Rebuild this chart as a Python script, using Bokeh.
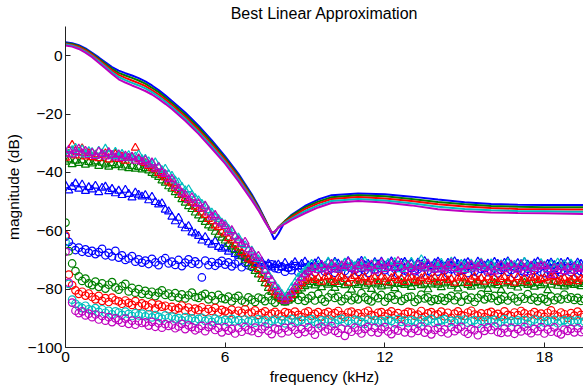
from bokeh.plotting import figure
from bokeh.models import Range1d, FixedTicker
from bokeh.embed import file_html
from bokeh.resources import INLINE

# ---------------- data ----------------
# BLA magnitude lines (dB) on a frequency grid (kHz)
line_f = [0, 0.25, 0.5, 0.75, 1, 1.25, 1.5, 1.75, 2, 2.25, 2.5, 2.75, 3, 3.25, 3.5, 3.75, 4,
          4.5, 5, 5.5, 6, 6.5, 7, 7.25, 7.5, 7.75, 7.85, 8.0, 8.25, 8.5, 9, 9.5, 10,
          11, 12, 13, 14, 15, 16, 17, 18, 19, 19.5]
bla_b = [4.6, 4.3, 3.6, 2.5, 1.0, -0.6, -2.3, -3.9, -5.1, -6.0, -6.8, -7.7, -8.8, -10.2, -11.8, -13.6, -15.5,
         -19.5, -24.0, -29.0, -34.5, -40.5, -47.5, -51.5, -56.0, -61.0, -63.0, -61.0, -56.8, -54.5, -51.5, -49.3, -47.8,
         -47.2, -47.5, -48.3, -49.3, -50.2, -50.8, -51.1, -51.2, -51.2, -51.2]
bla_g = [4.3, 4.0, 3.3, 2.15, 0.6, -1.05, -2.8, -4.5, -5.9, -6.8, -7.6, -8.5, -9.6, -11.0, -12.5, -14.3, -16.2,
         -20.2, -24.7, -29.7, -35.1, -41.1, -48.0, -51.9, -56.2, -60.6, -60.8, -58.8, -56.6, -54.8, -52.0, -50.0, -48.5,
         -47.8, -48.2, -49.1, -50.1, -50.9, -51.5, -51.8, -51.9, -51.9, -51.9]
bla_r = [4.0, 3.7, 3.0, 1.8, 0.3, -1.5, -3.3, -5.1, -6.6, -7.6, -8.5, -9.4, -10.4, -11.8, -13.3, -15.0, -16.9,
         -20.9, -25.4, -30.4, -35.7, -41.7, -48.5, -52.3, -56.5, -60.6, -60.7, -58.8, -56.9, -55.3, -52.6, -50.6, -49.1,
         -48.4, -48.9, -49.8, -50.9, -51.7, -52.2, -52.5, -52.6, -52.7, -52.7]
bla_c = [3.8, 3.4, 2.6, 1.4, -0.1, -1.9, -3.8, -5.7, -7.3, -8.4, -9.3, -10.2, -11.2, -12.5, -14.0, -15.7, -17.6,
         -21.6, -26.1, -31.1, -36.4, -42.4, -49.0, -52.6, -56.8, -60.7, -60.5, -58.9, -57.2, -55.8, -53.3, -51.3, -49.8,
         -49.1, -49.6, -50.6, -51.8, -52.5, -53.0, -53.2, -53.3, -53.5, -53.5]
bla_m = [3.5, 3.1, 2.3, 1.05, -0.5, -2.4, -4.3, -6.3, -8.1, -9.2, -10.2, -11.1, -12.1, -13.3, -14.8, -16.5, -18.3,
         -22.3, -26.8, -31.8, -37.0, -43.0, -49.5, -53.0, -57.0, -60.7, -60.3, -59.0, -57.6, -56.3, -54.0, -52.0, -50.5,
         -49.8, -50.3, -51.3, -52.6, -53.3, -53.7, -53.9, -54.0, -54.2, -54.3]

# noise spectra on 0.125 kHz bins (one row of 8 bins per kHz)
noise_f = [i * 0.125 for i in range(157)]

tri_b = [
    -44.5, -46.2, -45.0, -43.8, -45.6, -44.2, -46.4, -45.1,
    -45.9, -44.6, -46.8, -45.3, -44.9, -46.5, -45.7, -47.2,
    -46.3, -47.8, -46.0, -47.4, -48.6, -46.9, -47.7, -48.3,
    -47.8, -49.6, -48.4, -50.2, -51.0, -50.6, -52.8, -53.4,
    -55.2, -56.8, -55.6, -58.0, -59.2, -58.4, -60.6, -61.0,
    -61.8, -63.4, -62.2, -64.0, -64.8, -63.6, -65.6, -66.2,
    -65.8, -67.2, -66.4, -68.0, -68.6, -67.8, -69.4, -70.0,
    -69.6, -70.8, -71.4, -70.5, -72.0, -71.3, -72.6, -71.8,
    -71.6, -72.5, -71.0, -72.9, -71.8, -70.8, -72.3, -71.4,
    -70.6, -71.9, -72.4, -71.2, -70.5, -71.7, -72.1, -70.9,
    -71.8, -70.7, -71.3, -72.6, -71.0, -70.4, -71.6, -72.2,
    -71.1, -70.3, -71.9, -71.4, -72.3, -70.8, -71.5, -70.6,
    -72.0, -71.2, -70.5, -71.8, -72.4, -71.0, -70.7, -71.9,
    -71.3, -72.5, -70.9, -71.6, -70.4, -71.8, -72.2, -71.1,
    -70.6, -71.7, -72.3, -71.0, -71.9, -70.5, -71.4, -72.6,
    -71.2, -70.8, -71.9, -72.4, -70.6, -71.5, -72.0, -71.3,
    -71.8, -70.7, -71.4, -72.2, -71.0, -70.5, -71.7, -72.5,
    -71.1, -72.0, -70.8, -71.6, -72.3, -71.2, -70.6, -71.9,
    -72.1, -71.4, -70.9, -71.8, -72.4, -71.0, -71.5, -70.7,
    -71.6, -72.2, -70.9, -71.4, -72.0]
tri_g = [
    -36.4, -35.6, -37.2, -36.0, -36.8, -35.9, -37.4, -36.5,
    -37.0, -36.3, -37.8, -36.7, -37.3, -38.1, -36.9, -37.6,
    -37.4, -38.3, -37.7, -38.6, -37.9, -38.8, -38.2, -39.0,
    -38.6, -39.4, -40.2, -40.8, -41.6, -42.8, -43.6, -44.8,
    -45.6, -46.8, -47.8, -49.2, -50.4, -51.6, -52.6, -53.8,
    -54.8, -56.0, -57.0, -58.2, -59.0, -60.4, -61.4, -62.4,
    -63.4, -64.6, -65.4, -66.6, -67.6, -68.8, -70.0, -71.2,
    -72.4, -73.8, -75.0, -76.6, -78.0, -79.6, -81.0, -82.2,
    -83.0, -84.0, -84.6, -84.0, -83.2, -82.0, -80.6, -79.8,
    -79.0, -78.4, -77.6, -78.8, -78.0, -79.4, -77.8, -78.5,
    -77.9, -79.6, -78.3, -77.5, -78.7, -78.1, -80.2, -78.0,
    -78.6, -77.7, -78.9, -78.2, -80.0, -77.8, -78.4, -79.1,
    -77.6, -78.8, -78.0, -79.7, -78.3, -77.9, -78.6, -78.1,
    -79.3, -78.0, -77.5, -78.7, -78.2, -80.1, -78.4, -77.8,
    -78.5, -79.4, -78.1, -77.7, -78.9, -78.3, -79.8, -78.0,
    -77.8, -78.6, -79.2, -78.0, -77.6, -78.8, -78.2, -80.0,
    -78.4, -77.9, -78.7, -80.3, -78.1, -77.7, -78.9, -78.3,
    -79.5, -78.0, -77.8, -78.6, -78.2, -79.2, -77.9, -78.7,
    -78.1, -80.4, -78.5, -77.6, -78.9, -78.0, -79.1, -78.4,
    -77.9, -78.6, -78.2, -79.0, -78.3]
tri_r = [
    -35.0, -33.6, -30.6, -34.2, -33.0, -31.8, -34.6, -33.4,
    -34.8, -33.9, -35.2, -34.0, -33.5, -35.6, -34.3, -33.7,
    -35.4, -34.6, -36.0, -35.1, -34.8, -31.6, -35.5, -36.2,
    -36.8, -37.8, -38.6, -39.0, -40.2, -41.0, -41.8, -43.2,
    -43.8, -45.4, -46.2, -47.6, -48.8, -49.6, -50.4, -51.8,
    -52.6, -53.8, -54.6, -56.0, -56.8, -58.2, -58.8, -60.4,
    -61.0, -62.6, -63.4, -64.8, -65.8, -67.4, -68.2, -69.6,
    -70.2, -71.8, -73.2, -75.0, -76.4, -78.2, -79.8, -81.2,
    -82.2, -83.4, -84.0, -83.2, -82.0, -80.4, -79.0, -78.0,
    -77.2, -76.4, -75.8, -76.9, -76.2, -77.5, -76.0, -75.6,
    -76.8, -77.6, -76.1, -75.7, -76.6, -77.8, -76.3, -75.5,
    -77.1, -76.4, -75.9, -77.5, -76.7, -76.0, -77.3, -75.8,
    -76.5, -77.7, -76.2, -75.6, -77.0, -76.4, -77.6, -76.1,
    -75.8, -76.9, -77.4, -76.3, -75.7, -77.2, -76.6, -76.0,
    -77.5, -76.2, -75.9, -77.0, -76.5, -77.8, -76.1, -75.7,
    -76.4, -77.9, -76.7, -75.8, -77.1, -76.3, -77.5, -76.0,
    -77.0, -76.1, -77.6, -76.6, -75.9, -77.3, -76.4, -77.8,
    -75.9, -77.2, -76.5, -77.7, -76.2, -75.8, -77.0, -76.6,
    -76.3, -77.1, -76.0, -75.6, -77.4, -76.8, -76.2, -77.5,
    -76.9, -76.0, -77.3, -76.5, -76.1]
tri_c = [
    -32.8, -33.8, -32.4, -31.6, -33.4, -32.1, -33.9, -32.7,
    -33.1, -34.2, -32.6, -33.5, -31.9, -33.8, -34.4, -33.0,
    -34.4, -33.7, -35.0, -34.1, -35.3, -34.6, -33.9, -35.5,
    -35.4, -36.2, -37.0, -36.6, -38.0, -39.2, -38.8, -40.6,
    -41.2, -42.8, -43.4, -45.0, -46.2, -45.8, -47.6, -48.8,
    -49.6, -50.8, -51.6, -53.0, -53.8, -55.4, -56.0, -57.2,
    -57.8, -59.4, -60.2, -61.8, -62.4, -64.2, -65.0, -66.4,
    -66.8, -68.6, -69.8, -71.6, -73.4, -75.0, -76.8, -78.6,
    -80.0, -81.6, -82.8, -81.4, -79.4, -77.8, -76.0, -74.9,
    -73.8, -72.6, -71.4, -72.9, -71.8, -73.0, -72.2, -70.6,
    -72.0, -71.2, -73.1, -72.4, -70.9, -72.8, -71.6, -72.3,
    -71.5, -72.7, -70.4, -72.1, -73.0, -71.3, -72.5, -71.8,
    -72.9, -71.1, -72.4, -70.8, -71.9, -73.2, -71.5, -72.2,
    -70.7, -72.3, -71.6, -69.8, -72.6, -71.2, -73.0, -71.8,
    -72.4, -71.0, -72.8, -71.7, -70.6, -72.1, -73.1, -71.4,
    -71.9, -73.2, -71.3, -72.5, -71.8, -70.9, -72.7, -72.0,
    -71.2, -72.6, -73.0, -71.5, -72.2, -71.0, -72.9, -71.7,
    -72.8, -71.4, -70.7, -72.3, -73.1, -71.9, -72.4, -71.1,
    -72.0, -73.3, -71.6, -72.5, -70.9, -72.2, -71.5, -72.8,
    -71.3, -72.6, -71.9, -73.0, -72.1]
tri_m = [
    -33.6, -32.2, -33.9, -32.8, -31.9, -33.5, -32.6, -34.1,
    -33.3, -34.4, -32.9, -33.7, -34.6, -33.1, -34.0, -34.9,
    -33.8, -35.2, -34.3, -35.0, -34.6, -36.0, -35.2, -36.4,
    -35.8, -37.4, -36.6, -38.8, -38.2, -40.0, -40.6, -42.4,
    -42.2, -44.6, -45.4, -47.0, -47.6, -49.4, -48.6, -50.8,
    -50.6, -52.4, -51.4, -53.8, -55.2, -54.6, -56.8, -57.6,
    -58.4, -60.6, -59.8, -62.0, -63.2, -64.6, -63.8, -66.4,
    -67.2, -69.4, -68.6, -71.4, -73.8, -75.6, -77.0, -79.4,
    -80.8, -82.6, -84.0, -82.6, -81.0, -79.2, -77.6, -76.2,
    -75.0, -74.0, -73.2, -72.4, -73.5, -71.8, -72.9, -73.6,
    -71.4, -72.6, -73.4, -71.9, -72.2, -70.8, -72.9, -73.3,
    -72.1, -71.2, -73.0, -72.5, -71.6, -73.7, -72.0, -70.9,
    -73.2, -72.4, -71.1, -72.8, -70.4, -72.3, -73.5, -71.8,
    -72.7, -73.9, -71.6, -72.2, -73.0, -71.4, -72.6, -73.4,
    -71.5, -72.9, -73.3, -72.0, -71.1, -72.7, -73.6, -72.2,
    -73.5, -72.1, -71.7, -73.0, -72.4, -71.3, -72.8, -73.7,
    -72.3, -74.0, -72.6, -71.8, -73.2, -72.5, -71.6, -72.9,
    -73.4, -71.5, -72.7, -74.2, -72.0, -73.1, -72.4, -71.9,
    -72.1, -73.2, -75.2, -72.7, -73.5, -72.3, -73.9, -72.6,
    -73.7, -72.4, -73.1, -72.8, -73.3]

circ_b = [
    -62.0, -63.8, -65.4, -66.6, -65.8, -67.2, -66.4, -67.5,
    -66.9, -68.0, -67.3, -66.2, -68.4, -67.6, -68.8, -66.9,
    -69.2, -68.4, -70.0, -69.5, -68.7, -70.6, -69.8, -70.9,
    -70.2, -71.4, -69.6, -70.8, -71.8, -70.1, -69.4, -71.2,
    -70.6, -71.7, -70.0, -72.1, -70.9, -69.8, -71.3, -70.5,
    -71.4, -76.0, -70.2, -71.8, -70.7, -72.0, -71.1, -70.3,
    -71.6, -70.8, -72.2, -71.3, -70.6, -72.5, -71.0, -71.9,
    -72.4, -71.2, -72.9, -71.8, -73.3, -72.0, -71.5, -72.8,
    -73.1, -72.3, -74.0, -72.7, -73.5, -72.1, -74.2, -73.0,
    -72.6, -73.9, -72.4, -74.3, -73.2, -72.8, -74.0, -73.5,
    -72.9, -74.4, -73.1, -72.5, -73.8, -74.6, -72.7, -73.4,
    -74.1, -72.8, -73.6, -74.5, -72.6, -73.3, -74.0, -72.9,
    -73.5, -72.4, -74.3, -73.0, -74.8, -72.7, -73.6, -74.2,
    -72.8, -73.9, -73.2, -74.6, -72.5, -73.7, -74.3, -73.0,
    -74.0, -72.9, -73.5, -74.7, -73.2, -72.6, -74.1, -73.6,
    -73.3, -74.5, -72.8, -73.9, -74.4, -73.1, -72.7, -74.2,
    -73.8, -72.9, -74.6, -73.4, -72.6, -74.0, -73.5, -74.8,
    -72.8, -73.7, -74.3, -73.0, -74.9, -73.6, -72.9, -74.1,
    -74.5, -73.2, -74.0, -75.0, -73.4, -74.3, -73.8, -72.9,
    -74.2, -73.5, -74.7, -73.9, -74.4]
circ_g = [
    -57.2, -67.0, -71.2, -73.8, -75.6, -77.2, -76.4, -78.0,
    -78.6, -77.4, -79.2, -78.0, -79.8, -78.5, -77.6, -79.4,
    -80.2, -79.0, -78.2, -80.8, -79.6, -81.2, -80.0, -81.6,
    -80.6, -81.9, -80.9, -82.4, -81.2, -80.4, -82.0, -81.5,
    -82.6, -81.4, -82.9, -81.8, -83.2, -82.1, -81.2, -82.7,
    -83.0, -82.2, -81.6, -83.5, -82.4, -83.8, -82.0, -83.1,
    -83.4, -82.6, -84.2, -83.0, -82.3, -83.9, -84.5, -82.8,
    -83.6, -84.4, -82.9, -83.3, -84.1, -82.5, -83.8, -84.6,
    -82.9, -83.6, -84.2, -82.4, -83.1, -81.8, -83.7, -82.6,
    -84.0, -83.2, -82.3, -83.9, -81.6, -83.4, -84.3, -82.8,
    -81.5, -83.0, -82.6, -84.1, -83.3, -82.2, -83.8, -82.9,
    -83.5, -81.4, -82.8, -83.7, -84.2, -82.5, -83.1, -82.0,
    -84.3, -83.0, -82.4, -83.6, -82.1, -84.0, -83.3, -82.7,
    -82.6, -84.4, -83.5, -81.9, -83.2, -82.8, -84.1, -83.4,
    -83.7, -82.9, -84.0, -83.1, -82.3, -83.8, -82.6, -84.3,
    -82.2, -83.6, -82.9, -84.4, -83.0, -81.8, -83.5, -82.7,
    -83.1, -82.3, -84.0, -83.5, -82.6, -83.9, -82.4, -83.2,
    -84.2, -82.7, -83.3, -81.7, -83.6, -82.9, -84.1, -83.0,
    -83.4, -84.3, -82.5, -83.8, -82.9, -83.5, -81.9, -83.3,
    -82.8, -83.7, -83.0, -84.0, -83.4]
circ_r = [
    -61.6, -75.0, -78.6, -80.4, -81.6, -80.9, -82.2, -81.5,
    -82.7, -83.5, -82.3, -84.0, -83.1, -84.4, -82.9, -83.8,
    -84.2, -85.0, -83.9, -84.7, -85.4, -84.1, -85.8, -84.9,
    -85.5, -86.2, -84.9, -86.6, -85.3, -86.0, -85.7, -86.9,
    -86.1, -87.0, -86.5, -85.6, -87.3, -86.3, -87.6, -86.7,
    -87.2, -86.2, -87.8, -86.8, -87.5, -86.4, -88.0, -87.1,
    -87.6, -88.3, -87.0, -88.6, -87.4, -88.1, -86.9, -88.4,
    -88.0, -87.3, -88.8, -88.2, -87.6, -89.1, -88.4, -87.8,
    -88.6, -89.3, -87.9, -88.2, -89.0, -87.7, -88.8, -89.5,
    -88.1, -87.6, -89.2, -88.5, -87.9, -89.4, -88.3, -87.8,
    -89.0, -88.2, -87.5, -88.9, -89.6, -88.0, -87.7, -88.7,
    -88.3, -89.5, -88.0, -87.4, -88.8, -89.2, -88.1, -87.9,
    -89.3, -88.4, -87.6, -89.0, -88.2, -89.7, -88.5, -87.8,
    -88.0, -89.1, -88.7, -87.5, -89.4, -88.3, -87.9, -89.0,
    -88.6, -87.7, -89.3, -88.1, -89.8, -88.4, -87.6, -88.9,
    -89.2, -88.0, -87.4, -88.7, -89.1, -88.3, -89.6, -88.2,
    -87.8, -89.0, -88.5, -89.4, -87.6, -88.8, -89.2, -88.0,
    -88.9, -87.5, -88.3, -89.7, -88.6, -87.9, -89.0, -88.4,
    -89.5, -88.1, -87.3, -88.7, -89.3, -88.0, -88.6, -89.9,
    -88.2, -89.1, -87.7, -88.8, -89.4]
circ_c = [
    -63.8, -78.2, -83.6, -85.0, -85.9, -86.5, -85.7, -86.9,
    -87.2, -86.5, -87.8, -86.9, -88.1, -87.4, -88.6, -87.6,
    -88.0, -88.8, -87.7, -88.5, -89.2, -88.2, -89.0, -88.4,
    -89.3, -88.6, -89.7, -88.9, -89.5, -90.1, -89.0, -89.8,
    -89.4, -90.3, -89.9, -90.7, -89.6, -90.4, -90.0, -90.9,
    -90.2, -89.8, -90.9, -90.4, -91.2, -90.1, -90.7, -91.0,
    -90.5, -91.3, -90.2, -91.0, -90.6, -91.6, -90.4, -91.1,
    -90.8, -91.5, -90.3, -91.2, -90.7, -91.8, -90.9, -90.4,
    -91.3, -90.6, -91.7, -90.9, -90.2, -91.4, -91.0, -90.5,
    -91.6, -90.8, -90.3, -91.2, -91.9, -90.7, -91.1, -90.4,
    -91.0, -91.7, -90.6, -90.2, -91.4, -90.9, -91.8, -90.5,
    -90.8, -91.3, -91.9, -90.4, -91.0, -90.6, -91.5, -90.9,
    -91.4, -90.5, -90.9, -91.7, -90.3, -91.2, -90.7, -91.6,
    -90.6, -91.1, -91.8, -90.4, -91.3, -90.8, -90.2, -91.5,
    -91.2, -90.7, -90.3, -91.6, -90.9, -91.4, -90.5, -91.0,
    -90.4, -91.5, -91.0, -90.6, -91.9, -90.8, -91.3, -90.7,
    -91.1, -90.5, -91.7, -91.2, -90.3, -91.5, -90.9, -91.3,
    -90.7, -91.4, -90.6, -91.8, -91.0, -90.4, -91.6, -90.8,
    -91.5, -90.9, -91.2, -90.5, -91.7, -91.0, -90.6, -91.3,
    -90.8, -91.4, -90.7, -91.6, -91.1]
circ_m = [
    -67.2, -77.8, -84.6, -87.4, -88.2, -87.6, -89.0, -88.4,
    -89.6, -88.7, -90.4, -89.2, -90.8, -89.6, -91.3, -90.0,
    -90.6, -91.5, -90.1, -91.9, -90.8, -92.2, -91.0, -91.6,
    -91.4, -92.5, -91.2, -92.9, -91.7, -93.2, -92.0, -92.6,
    -92.2, -93.4, -92.8, -91.9, -93.7, -92.4, -93.0, -94.1,
    -93.5, -92.6, -94.4, -93.0, -92.4, -94.0, -93.3, -94.8,
    -93.0, -94.2, -93.6, -95.2, -93.4, -94.6, -92.9, -94.0,
    -94.4, -93.2, -95.0, -93.7, -92.8, -94.3, -95.4, -93.5,
    -93.9, -95.1, -93.3, -94.5, -92.9, -94.0, -95.3, -93.6,
    -94.7, -93.1, -94.2, -95.6, -93.4, -92.8, -94.5, -93.8,
    -92.7, -94.3, -95.0, -93.5, -96.0, -93.9, -94.6, -93.2,
    -94.1, -95.2, -93.6, -92.9, -94.7, -93.3, -94.9, -93.7,
    -93.0, -94.5, -95.4, -93.8, -94.2, -92.7, -94.8, -93.5,
    -95.1, -93.6, -94.3, -92.8, -94.9, -93.9, -95.5, -94.0,
    -93.3, -94.7, -93.8, -95.2, -93.0, -94.4, -93.6, -92.9,
    -94.6, -95.3, -93.7, -94.1, -95.8, -93.4, -94.3, -93.1,
    -94.0, -92.8, -94.7, -95.0, -93.5, -94.8, -93.2, -95.3,
    -93.7, -94.5, -92.9, -94.2, -95.1, -93.6, -94.4, -93.0,
    -95.2, -93.8, -94.6, -93.1, -94.9, -95.5, -93.9, -94.3,
    -93.6, -94.8, -93.4, -94.7, -94.1]

x_ticks = [0, 6, 12, 18]
y_ticks = [-100, -80, -60, -40, -20, 0]
title_text = "Best Linear Approximation"

colors = {"b": "#0000FF", "g": "#008000", "r": "#FF0000", "c": "#00BFBF", "m": "#BF00BF"}

# ---------------- figure ----------------
FONT = "Liberation Sans"
p = figure(width=583, height=389, output_backend="svg", toolbar_location=None,
           x_range=Range1d(0, 19.47), y_range=Range1d(-100, 10),
           min_border_left=65, min_border_right=0, min_border_top=26, min_border_bottom=42)
p.outline_line_color = None
p.xgrid.visible = False
p.ygrid.visible = False
p.background_fill_color = "white"
p.border_fill_color = "white"

p.title.text = title_text
p.title.align = "center"
p.title.vertical_align = "top"
p.title.standoff = 5
p.title.text_font = FONT
p.title.text_font_size = "16px"
p.title.text_font_style = "normal"
p.title.text_color = "black"

for ax in (p.xaxis[0], p.yaxis[0]):
    ax.major_tick_in = 5
    ax.major_tick_out = 0
    ax.minor_tick_in = 0
    ax.minor_tick_out = 0
    ax.axis_line_color = "#222222"
    ax.major_tick_line_color = "#222222"
    ax.major_label_text_font = FONT
    ax.major_label_text_font_size = "15.5px"
    ax.major_label_text_color = "black"
    ax.axis_label_text_font = FONT
    ax.axis_label_text_font_size = "15.5px"
    ax.axis_label_text_font_style = "normal"
    ax.axis_label_text_color = "black"

p.xaxis.ticker = FixedTicker(ticks=x_ticks)
p.yaxis.ticker = FixedTicker(ticks=y_ticks)
p.xaxis.axis_label = "frequency (kHz)"
p.yaxis.axis_label = "magnitude (dB)"
p.xaxis.major_label_standoff = 4
p.yaxis.major_label_standoff = 3
p.xaxis.axis_label_standoff = 3
p.yaxis.axis_label_standoff = 3

series = [
    ("b", bla_b, tri_b, circ_b),
    ("g", bla_g, tri_g, circ_g),
    ("r", bla_r, tri_r, circ_r),
    ("c", bla_c, tri_c, circ_c),
    ("m", bla_m, tri_m, circ_m),
]
for key, bla, tri, circ in series:
    col = colors[key]
    p.line(line_f, bla, line_color=col, line_width=2)
    p.scatter(noise_f, tri, marker="triangle", size=8, fill_color=None,
              line_color=col, line_width=1.2)
    p.scatter(noise_f, circ, marker="circle", size=7.5, fill_color=None,
              line_color=col, line_width=1.2)

open("out.html", "w").write(file_html(p, INLINE))
